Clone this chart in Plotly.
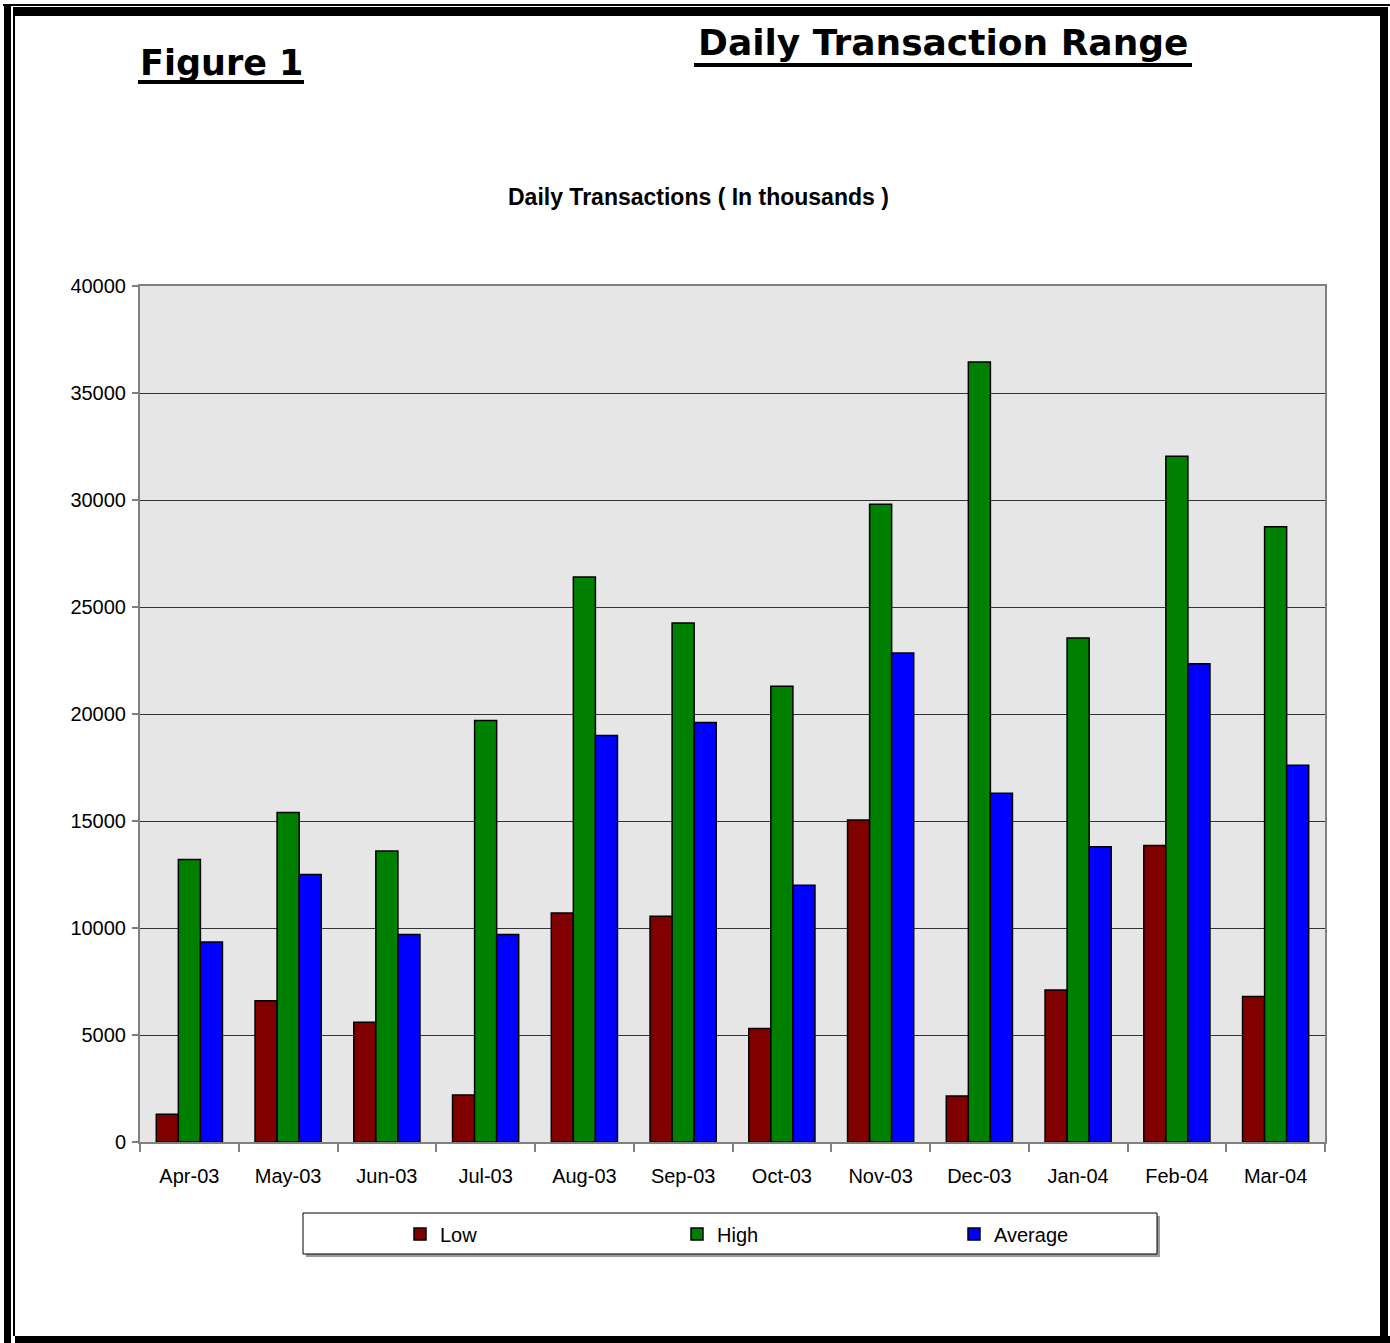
import plotly.graph_objects as go

months = ["Apr-03", "May-03", "Jun-03", "Jul-03", "Aug-03", "Sep-03",
          "Oct-03", "Nov-03", "Dec-03", "Jan-04", "Feb-04", "Mar-04"]
low = [1300, 6600, 5600, 2200, 10700, 10550, 5300, 15050, 2150, 7100, 13850, 6800]
high = [13200, 15400, 13600, 19700, 26400, 24250, 21300, 29800, 36450, 23550, 32050, 28750]
average = [9350, 12500, 9700, 9700, 19000, 19600, 12000, 22850, 16300, 13800, 22350, 17600]
y_ticks = [0, 5000, 10000, 15000, 20000, 25000, 30000, 35000, 40000]

W, H = 1390, 1343
ML, MR, MT, MB = 140, 65, 286, 201
PW, PH = W - ML - MR, H - MT - MB


def px(x):
    return (x - ML) / PW


def py(y):
    return (H - MB - y) / PH


NARROW = "Liberation Sans Narrow, Arial Narrow, Liberation Sans, Arial, sans-serif"
BOLDWIDE = "DejaVu Sans, Verdana, sans-serif"

fig = go.Figure()
for name, vals, col in [("Low", low, "#800000"), ("High", high, "#008000"),
                        ("Average", average, "#0000FF")]:
    fig.add_trace(go.Bar(x=months, y=vals, name=name,
                         marker=dict(color=col, line=dict(color="black", width=1.5))))

shapes = []


def rect(x0, y0, x1, y1, fill="black", line=None):
    d = dict(type="rect", xref="paper", yref="paper",
             x0=px(x0), x1=px(x1), y0=py(y0), y1=py(y1), layer="above",
             fillcolor=fill)
    if line is None:
        d["line"] = dict(width=0)
    else:
        d["line"] = line
    shapes.append(d)


# page border (double frame)
rect(3, 4, 1390, 6)        # top thin
rect(15, 7, 1383, 16)      # top thick
rect(4, 6, 11, 1343)       # left thick
rect(13, 7, 15, 1336)      # left thin
rect(1380, 7, 1388, 1343)  # right thick
rect(15, 1336, 1390, 1343) # bottom thick
# title underlines
rect(138, 80, 304, 84)
rect(694, 63, 1192, 67)
# legend box
rect(306, 1216, 1160, 1257, fill="#9a9a9a")
rect(303, 1213, 1157, 1254, fill="white", line=dict(color="black", width=1))

annotations = [
    dict(text="<b>Figure 1</b>", x=px(138), y=py(85), xref="paper", yref="paper",
         xanchor="left", yanchor="bottom", showarrow=False,
         font=dict(family=BOLDWIDE, size=35, color="black")),
    dict(text="<b>Daily Transaction Range</b>", x=px(943), y=py(65), xref="paper", yref="paper",
         xanchor="center", yanchor="bottom", showarrow=False,
         font=dict(family=BOLDWIDE, size=36, color="black")),
    dict(text="<b>Daily Transactions ( In thousands )</b>", x=px(698), y=py(197),
         xref="paper", yref="paper", xanchor="center", yanchor="middle", showarrow=False,
         font=dict(family=NARROW, size=23, color="black")),
]

fig.update_layout(
    width=W, height=H,
    margin=dict(l=ML, r=MR, t=MT, b=MB, pad=0),
    paper_bgcolor="white", plot_bgcolor="#e6e6e6",
    barmode="group", bargap=0.33, bargroupgap=0,
    font=dict(family=NARROW, size=20, color="black"),
    shapes=shapes, annotations=annotations,
    legend=dict(orientation="h", x=px(400), y=py(1234), xanchor="left", yanchor="middle",
                bgcolor="rgba(0,0,0,0)", borderwidth=0, entrywidth=232,
                font=dict(family=NARROW, size=20, color="black"), itemclick=False),
)
fig.update_xaxes(showline=True, linecolor="#808080", linewidth=2, mirror=True,
                 ticks="outside", tickson="boundaries", ticklen=8, tickcolor="#808080",
                 tickwidth=2, showgrid=False, fixedrange=True, ticklabelstandoff=15)
fig.update_yaxes(range=[0, 40000], tickvals=y_ticks, tickformat="d", showline=True,
                 linecolor="#808080", linewidth=2, mirror=True, ticks="outside", ticklen=6,
                 tickcolor="#808080", tickwidth=2, showgrid=True, gridcolor="#333333",
                 gridwidth=1, zeroline=False, fixedrange=True, ticklabelstandoff=2)

fig.write_html("out.html", config={"displayModeBar": False},
               post_script="document.body.style.margin='0';document.body.style.overflow='hidden';")
